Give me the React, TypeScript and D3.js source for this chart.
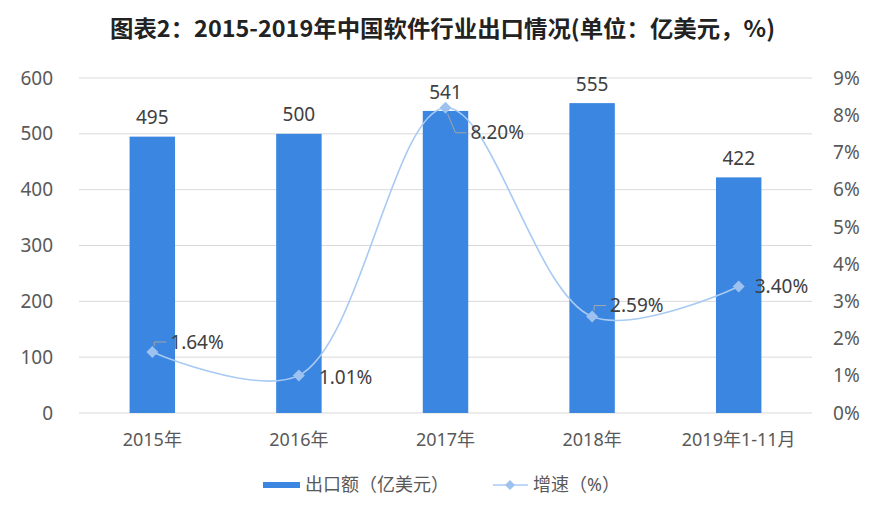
import React from "react";
import * as d3 from "d3";

const categories = ["2015年", "2016年", "2017年", "2018年", "2019年1-11月"];
const exportValues = [495, 500, 541, 555, 422];
const growthValues = [1.64, 1.01, 8.2, 2.59, 3.4];
const leftTicks = [0, 100, 200, 300, 400, 500, 600];
const rightTicks = [0, 1, 2, 3, 4, 5, 6, 7, 8, 9];
// label offsets relative to each marker (dx, dy) and whether a leader line is drawn
const labelOffsets: [number, number, boolean][] = [
  [18, -10, true],
  [20, 2, false],
  [25, 25, true],
  [18, -11, true],
  [16, 0, false],
];

const W = 896;
const H = 516;
const M = { left: 79, right: 812, top: 78, bottom: 413 };
const FONT = '"Noto Sans", "Noto Sans CJK SC", sans-serif';
const BAR = "#3B86E0";
const LINE = "#A8CAF3";
const MARK = "#9EC2EF";
const TXT = "#595959";
const DTXT = "#404040";

export default function App() {
  const x = d3.scaleBand<string>().domain(categories).range([M.left, M.right]).paddingInner(0.69).paddingOuter(0.345);
  const yL = d3.scaleLinear().domain([0, 600]).range([M.bottom, M.top]);
  const yR = d3.scaleLinear().domain([0, 9]).range([M.bottom, M.top]);
  const cx = (c: string) => (x(c) ?? 0) + x.bandwidth() / 2;
  const linePath = d3
    .line<number>()
    .x((_, i) => cx(categories[i]))
    .y((d) => yR(d))
    .curve(d3.curveCatmullRom.alpha(0.5))(growthValues);

  return (
    <svg width={W} height={H} style={{ position: "absolute", left: 0, top: 0, background: "#fff" }}>
      <rect width={W} height={H} fill="#fff" />
      <text x={110} y={37} textAnchor="start" fontSize={23} fontWeight="bold" fill="#222"
        textLength={665} lengthAdjust="spacingAndGlyphs"
        style={{ fontFamily: '"Liberation Sans Narrow", "Noto Sans CJK SC", sans-serif' }}>
        图表2：2015-2019年中国软件行业出口情况(单位：亿美元，%)
      </text>
      {leftTicks.map((t) => (
        <g key={t}>
          <line x1={M.left} x2={M.right} y1={yL(t)} y2={yL(t)} stroke="#D9D9D9" strokeWidth={1} />
          <text x={53} y={yL(t)} dy="0.35em" textAnchor="end" fontSize={19} fill={TXT} style={{ fontFamily: FONT }}>
            {t}
          </text>
        </g>
      ))}
      {rightTicks.map((t) => (
        <text key={t} x={833} y={yR(t)} dy="0.35em" textAnchor="start" fontSize={19} fill={TXT} style={{ fontFamily: FONT }}>
          {t}%
        </text>
      ))}
      {categories.map((c, i) => (
        <g key={c}>
          <rect x={x(c)} y={yL(exportValues[i])} width={x.bandwidth()} height={M.bottom - yL(exportValues[i])} fill={BAR} />
          <text x={cx(c)} y={yL(exportValues[i]) - 19} dy="0.35em" textAnchor="middle" fontSize={19} fill={DTXT} style={{ fontFamily: FONT }}>
            {exportValues[i]}
          </text>
          <text x={cx(c)} y={440} dy="0.35em" textAnchor="middle" fontSize={18} fill={TXT} style={{ fontFamily: FONT }}>
            {c}
          </text>
        </g>
      ))}
      <path d={linePath ?? ""} fill="none" stroke={LINE} strokeWidth={1.6} />
      {growthValues.map((v, i) => {
        const px = cx(categories[i]);
        const py = yR(v);
        const [dx, dy, leader] = labelOffsets[i];
        const lx = px + dx;
        const ly = py + dy;
        return (
          <g key={i}>
            <path d={`M${px},${py - 6}L${px + 6},${py}L${px},${py + 6}L${px - 6},${py}Z`} fill={MARK} />
            {leader && (
              dy < 0 ? (
                <path d={`M${px + 2},${py - 6}L${px + 2},${ly}L${lx - 4},${ly}`} fill="none" stroke="#A6A6A6" strokeWidth={1} />
              ) : (
                <path d={`M${px + 2},${py + 6}L${px + 10},${ly}L${lx - 4},${ly}`} fill="none" stroke="#A6A6A6" strokeWidth={1} />
              )
            )}
            <text x={lx} y={ly} dy="0.35em" textAnchor="start" fontSize={19} fill={DTXT} style={{ fontFamily: FONT }}>
              {v.toFixed(2)}%
            </text>
          </g>
        );
      })}
      <rect x={263} y={482} width={37} height={6} fill={BAR} />
      <text x={305} y={485} dy="0.35em" fontSize={18} fill={TXT} style={{ fontFamily: FONT }}>出口额（亿美元）</text>
      <line x1={493} x2={528} y1={485} y2={485} stroke={LINE} strokeWidth={1.6} />
      <path d="M510,480L515,485L510,490L505,485Z" fill={MARK} />
      <text x={533} y={485} dy="0.35em" fontSize={18} fill={TXT} style={{ fontFamily: FONT }}>增速（%）</text>
    </svg>
  );
}
